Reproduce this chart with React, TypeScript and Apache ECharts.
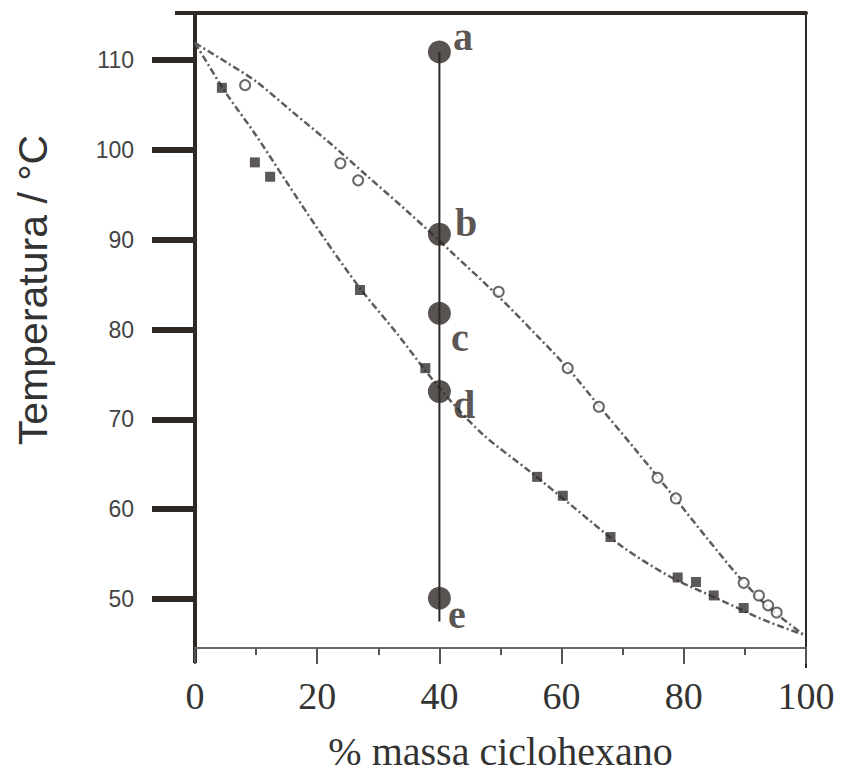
import React, { useEffect, useRef } from "react";
import * as echarts from "echarts";

// ---- data ----
const yTickValues = [50, 60, 70, 80, 90, 100, 110];

const liquidCurve: [number, number][] = [
  [0, 111.9], [5, 106.4], [10, 101.6], [15, 96.4], [21, 90.3], [27, 84.6],
  [33, 79.6], [40, 73.5], [47, 68.4], [55, 64.1], [62, 60.2], [70, 55.8],
  [78, 52.4], [86, 49.9], [93, 47.7], [99.7, 46],
];

const vaporCurve: [number, number][] = [
  [0, 111.9], [5, 109.8], [10, 107.6], [16, 104.2], [22, 100.8], [28, 97.2],
  [35, 93], [42, 88.6], [49.5, 83.8], [56, 79.3], [61, 75.7], [66, 71.6],
  [72, 66.7], [78, 61.7], [84, 56.6], [89, 52.5], [94, 49], [99.7, 46],
];

const liquidPoints: [number, number][] = [
  [4.4, 106.9], [9.8, 98.6], [12.3, 97], [27, 84.4], [37.7, 75.7], [56, 63.6],
  [60.2, 61.5], [68, 56.9], [79, 52.4], [82, 51.9], [84.9, 50.4], [89.8, 49],
];

const vaporPoints: [number, number][] = [
  [8.2, 107.2], [23.8, 98.5], [26.7, 96.6], [49.7, 84.2], [61, 75.7], [66.1, 71.4],
  [75.7, 63.5], [78.7, 61.2], [89.8, 51.8], [92.3, 50.4], [93.8, 49.3], [95.2, 48.5],
];

const stateNames = ["a", "b", "c", "d", "e"];
const stateX = 40;
const stateTemps = [110.9, 90.6, 81.8, 73.1, 50.1];
const tieLine: [number, number][] = [[40, 110.9], [40, 47.5]];

// ---- styles ----
const labelOffsets: [number, number][] = [[2, -15], [4, -12], [0, 24], [2, 13], [-3, 16]];
const INK = "#2f2926";
const CURVE = "#5c5c5c";

export default function App() {
  const ref = useRef<HTMLDivElement>(null);
  useEffect(() => {
    if (!ref.current) return;
    const chart = echarts.init(ref.current, null, { renderer: "svg" });
    const yMin = 44.55;
    const yMax = 115.23;
    chart.setOption({
      animation: false,
      backgroundColor: "#ffffff",
      grid: { left: 195, right: 51, top: 13, bottom: 130 },
      xAxis: [
        {
          type: "value",
          position: "bottom",
          min: 0,
          max: 100,
          interval: 20,
          axisLine: { onZero: false, lineStyle: { color: "#6e6863", width: 2 } },
          axisTick: { length: 16, lineStyle: { color: "#555", width: 2 } },
          minorTick: { show: true, splitNumber: 2, length: 7, lineStyle: { color: "#555", width: 2 } },
          splitLine: { show: false },
          minorSplitLine: { show: false },
          axisLabel: {
            fontFamily: "Liberation Serif",
            fontSize: 38,
            color: "#333",
            margin: 29,
          },
          name: "% massa ciclohexano",
          nameLocation: "middle",
          nameGap: 83,
          nameTextStyle: { fontFamily: "Liberation Serif", fontSize: 40, color: "#333" },
        },
        {
          type: "value",
          position: "top",
          min: 0,
          max: 100,
          axisLine: { onZero: false, lineStyle: { color: INK, width: 4 } },
          axisTick: { show: false },
          axisLabel: { show: false },
          splitLine: { show: false },
        },
      ],
      yAxis: [
        {
          type: "value",
          position: "left",
          min: yMin,
          max: yMax,
          axisLine: { onZero: false, lineStyle: { color: INK, width: 4 } },
          axisTick: {
            customValues: yTickValues,
            length: 43,
            lineStyle: { color: INK, width: 6 },
          },
          axisLabel: {
            customValues: yTickValues,
            fontFamily: "Liberation Sans",
            fontSize: 23,
            color: "#444",
            margin: 61,
          },
          splitLine: { show: false },
        },
        {
          type: "value",
          position: "right",
          min: yMin,
          max: yMax,
          axisLine: { onZero: false, lineStyle: { color: INK, width: 2 } },
          axisTick: { show: false },
          axisLabel: { show: false },
          splitLine: { show: false },
        },
      ],
      graphic: [
        {
          type: "text",
          x: 33,
          y: 290,
          rotation: Math.PI / 2,
          style: {
            text: "Temperatura / °C",
            font: "41px 'Liberation Sans'",
            fill: "#333",
            align: "center",
            verticalAlign: "middle",
          },
        },
        { type: "line", shape: { x1: 175, y1: 13, x2: 195, y2: 13 }, style: { stroke: INK, lineWidth: 4 } },
        { type: "line", shape: { x1: 195, y1: 647, x2: 195, y2: 663 }, style: { stroke: INK, lineWidth: 4 } },
        { type: "line", shape: { x1: 806, y1: 647, x2: 806, y2: 668 }, style: { stroke: INK, lineWidth: 2 } },
      ],
      series: [
        {
          type: "line",
          data: liquidCurve,
          smooth: 0.3,
          showSymbol: false,
          lineStyle: { color: CURVE, width: 2.5, type: [7, 3, 2, 3] },
          z: 2,
        },
        {
          type: "line",
          data: vaporCurve,
          smooth: 0.3,
          showSymbol: false,
          lineStyle: { color: CURVE, width: 2.5, type: [7, 3, 2, 3] },
          z: 2,
        },
        {
          type: "scatter",
          data: liquidPoints,
          symbol: "rect",
          symbolSize: 10,
          itemStyle: { color: "#353030" },
          z: 3,
        },
        {
          type: "scatter",
          data: vaporPoints,
          symbol: "emptyCircle",
          symbolSize: 10,
          itemStyle: { color: "#444", borderColor: "#444", borderWidth: 2.5 },
          z: 3,
        },
        {
          type: "line",
          data: tieLine,
          showSymbol: false,
          lineStyle: { color: INK, width: 2 },
          z: 4,
        },
        {
          type: "scatter",
          data: stateNames.map((n, i) => ({
            value: [stateX, stateTemps[i]],
            name: n,
            label: { offset: labelOffsets[i] },
          })),
          symbol: "circle",
          symbolSize: 23,
          itemStyle: { color: INK },
          label: {
            show: true,
            position: "right",
            distance: 0,
            formatter: (p: any) => p.name,
            fontFamily: "Liberation Serif",
            fontWeight: "bold",
            fontSize: 40,
            color: INK,
          },
          z: 5,
        },
      ],
    });
    return () => chart.dispose();
  }, []);
  return (
    <div
      ref={ref}
      style={{ position: "fixed", left: 0, top: 0, width: 857, height: 778, background: "#fff" }}
    />
  );
}
